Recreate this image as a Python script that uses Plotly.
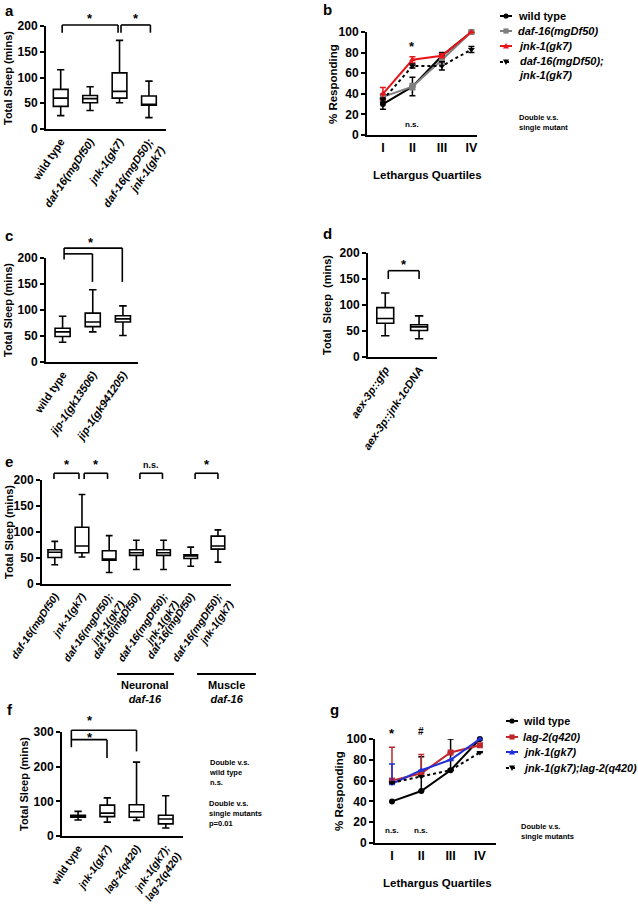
import plotly.graph_objects as go

W, H = 638, 904
FONT = "Liberation Sans, Arial, sans-serif"

# ---------------- data ----------------
# panel a (box: low whisker, q1, median, q3, high whisker)
a_labels = ["wild type", "<i>daf-16(mgDf50)</i>", "<i>jnk-1(gk7)</i>", "<i>daf-16(mgD50);<br>jnk-1(gk7)</i>"]
a_low = [26, 36, 51, 22]
a_q1 = [44, 51, 60, 46]
a_med = [60, 59, 73, 48]
a_q3 = [77, 65, 109, 64]
a_high = [115, 82, 172, 93]

# panel b (lines, % responding)
b_quart = ["I", "II", "III", "IV"]
b_names = ["wild type", "<i>daf-16(mgDf50)</i>", "<i>jnk-1(gk7)</i>", "<i>daf-16(mgDf50);<br>jnk-1(gk7)</i>"]
b_wt = [30, 47, 77, 100]
b_wt_err = [5, 9, 3, 0]
b_daf = [37, 47, 73, 100]
b_daf_err = [3, 3, 3, 0]
b_jnk = [40, 73, 77, 100]
b_jnk_err = [6, 3, 2, 0]
b_dbl = [34, 67, 67, 83]
b_dbl_err = [2, 2, 4, 3]

# panel c
c_labels = ["wild type", "<i>jip-1(gk13506)</i>", "<i>jip-1(gk941205)</i>"]
c_low = [38, 58, 51]
c_q1 = [49, 68, 77]
c_med = [58, 77, 83]
c_q3 = [65, 94, 89]
c_high = [88, 139, 108]

# panel d
d_labels = ["<i>aex-3p::gfp</i>", "<i>aex-3p::jnk-1cDNA</i>"]
d_low = [41, 35]
d_q1 = [65, 51]
d_med = [74, 58]
d_q3 = [95, 62]
d_high = [123, 79]

# panel e
e_labels = ["<i>daf-16(mgDf50)</i>", "<i>jnk-1(gk7)</i>", "<i>daf-16(mgDf50);<br>jnk-1(gk7)</i>",
            "<i>daf-16(mgDf50)</i>", "<i>daf-16(mgDf50);<br>jnk-1(gk7)</i>",
            "<i>daf-16(mgDf50)</i>", "<i>daf-16(mgDf50);<br>jnk-1(gk7)</i>"]
e_low = [37, 52, 22, 28, 28, 34, 42]
e_q1 = [51, 60, 46, 55, 55, 49, 67]
e_med = [61, 73, 47, 60, 60, 54, 73]
e_q3 = [66, 109, 64, 66, 66, 56, 92]
e_high = [82, 172, 93, 84, 84, 71, 104]
e_groups = ["Neuronal", "Muscle"]

# panel f
f_labels = ["wild type", "<i>jnk-1(gk7)</i>", "<i>lag-2(q420)</i>", "<i>jnk-1(gk7);<br>lag-2(q420)</i>"]
f_low = [46, 40, 45, 23]
f_q1 = [54, 56, 54, 35]
f_med = [57, 66, 70, 49]
f_q3 = [60, 89, 90, 60]
f_high = [71, 110, 213, 116]

# panel g
g_quart = ["I", "II", "III", "IV"]
g_names = ["wild type", "<i>lag-2(q420)</i>", "<i>jnk-1(gk7)</i>", "<i>jnk-1(gk7);lag-2(q420)</i>"]
g_wt = [40, 50, 70, 100]
g_wt_err = [0, 33, 30, 0]
g_lag = [60, 67, 87, 94]
g_lag_err = [32, 18, 0, 0]
g_jnk = [57, 70, 80, 100]
g_jnk_err = [19, 0, 0, 0]
g_dbl = [58, 64, 70, 87]
g_dbl_err = [0, 0, 0, 0]

# series styles
b_colors = ['black', '#7f7f7f', '#e8161b', 'black']
g_colors = ['black', '#c0272d', '#2130d8', 'black']
symbols = ['circle', 'square', 'triangle-up', 'triangle-down']
dashes = ['solid', 'solid', 'solid', 'dot']

# ---------------- layout geometry (pixels) ----------------
P = {
    'a': dict(xa='x', ya='y', xd=(46, 166), yd=(26, 129), xr=[-0.5, 3.58], yr=[0, 200]),
    'b': dict(xa='x2', ya='y2', xd=(367, 477), yd=(32, 135), xr=[-0.54, 3.19], yr=[0, 100]),
    'c': dict(xa='x3', ya='y3', xd=(46, 138), yd=(258, 362), xr=[-0.55, 2.5], yr=[0, 200]),
    'd': dict(xa='x4', ya='y4', xd=(368, 437), yd=(253, 357), xr=[-0.51, 1.53], yr=[0, 200]),
    'e': dict(xa='x5', ya='y5', xd=(42, 231), yd=(480, 584), xr=[-0.47, 6.48], yr=[0, 200]),
    'f': dict(xa='x6', ya='y6', xd=(62, 183), yd=(732, 836), xr=[-0.55, 3.59], yr=[0, 300]),
    'g': dict(xa='x7', ya='y7', xd=(375, 496), yd=(739, 843), xr=[-0.58, 3.55], yr=[0, 100]),
}
tick_size = {'a': 11, 'b': 12.5, 'c': 11, 'd': 11, 'e': 10.5, 'f': 10.5, 'g': 12.5}

fig = go.Figure()
shapes = []
annos = []


def axkey(a):
    return a[0] + 'axis' + a[1:]


def fx(p, v):
    r = P[p]['xr']
    return (v - r[0]) / (r[1] - r[0])


def fy(p, v):
    r = P[p]['yr']
    return (v - r[0]) / (r[1] - r[0])


def bracket(p, pts):
    for (x0, y0), (x1, y1) in zip(pts[:-1], pts[1:]):
        shapes.append(dict(type='line', xref=P[p]['xa'] + ' domain', yref=P[p]['ya'] + ' domain',
                           x0=fx(p, x0), y0=fy(p, y0), x1=fx(p, x1), y1=fy(p, y1),
                           line=dict(color='black', width=1.6)))


def dtext(p, x, y, text, size=12):
    annos.append(dict(xref=P[p]['xa'] + ' domain', yref=P[p]['ya'] + ' domain',
                      x=fx(p, x), y=fy(p, y), text=text, showarrow=False,
                      font=dict(size=size, family=FONT, color='black'),
                      xanchor='center', yanchor='middle'))


def ptext(x, y, text, size=11, xanchor='center', yanchor='middle', angle=0, align='center'):
    annos.append(dict(xref='paper', yref='paper', x=x / W, y=1 - y / H, text=text, showarrow=False,
                      font=dict(size=size, family=FONT, color='black'), xanchor=xanchor,
                      yanchor=yanchor, textangle=angle, align=align))


def px(x, y):
    return '%.5f,%.5f' % (x / W, 1 - y / H)


def legend_entry(sx, cy, tx, ty, name, color, symbol, dash, size):
    # key: short line with a marker in its middle, then the label
    shapes.append(dict(type='line', xref='paper', yref='paper', x0=sx / W, x1=(sx + 12) / W,
                       y0=1 - cy / H, y1=1 - cy / H, line=dict(color=color, width=2, dash=dash)))
    cx, r = sx + 6, 2.6
    if symbol == 'circle':
        shapes.append(dict(type='circle', xref='paper', yref='paper', x0=(cx - r) / W, x1=(cx + r) / W,
                           y0=1 - (cy + r) / H, y1=1 - (cy - r) / H, fillcolor=color, line=dict(width=0)))
    elif symbol == 'square':
        shapes.append(dict(type='rect', xref='paper', yref='paper', x0=(cx - r) / W, x1=(cx + r) / W,
                           y0=1 - (cy + r) / H, y1=1 - (cy - r) / H, fillcolor=color, line=dict(width=0)))
    else:
        s = 1 if symbol == 'triangle-up' else -1
        path = 'M%s L%s L%s Z' % (px(cx - 3, cy + 2.5 * s), px(cx + 3, cy + 2.5 * s), px(cx, cy - 3 * s))
        shapes.append(dict(type='path', xref='paper', yref='paper', path=path, fillcolor=color,
                           line=dict(width=0)))
    ptext(tx, ty, '<b>%s</b>' % name, size, xanchor='left', align='left')


def boxes(p, low, q1, med, q3, high):
    fig.add_trace(go.Box(x=list(range(len(med))), q1=q1, median=med, q3=q3,
                         lowerfence=low, upperfence=high, width=0.5, whiskerwidth=0.5,
                         fillcolor='white', line=dict(color='black', width=1.6),
                         boxpoints=False, showlegend=False, hoverinfo='skip',
                         xaxis=P[p]['xa'], yaxis=P[p]['ya']))


def line(p, y, err, name, color, symbol, dash, minus=True):
    fig.add_trace(go.Scatter(x=list(range(len(y))), y=y, name=name, mode='lines+markers',
                             line=dict(color=color, width=2, dash=dash),
                             marker=dict(color=color, symbol=symbol, size=6),
                             error_y=dict(type='data', array=err,
                                          arrayminus=err if minus else [0] * len(err),
                                          color=color, thickness=1.5, width=3),
                             cliponaxis=False, showlegend=False, hoverinfo='skip',
                             xaxis=P[p]['xa'], yaxis=P[p]['ya']))


# ---------------- traces ----------------
boxes('a', a_low, a_q1, a_med, a_q3, a_high)
for i, (ys, es) in enumerate([(b_wt, b_wt_err), (b_daf, b_daf_err), (b_jnk, b_jnk_err), (b_dbl, b_dbl_err)]):
    line('b', ys, es, b_names[i], b_colors[i], symbols[i], dashes[i])
boxes('c', c_low, c_q1, c_med, c_q3, c_high)
boxes('d', d_low, d_q1, d_med, d_q3, d_high)
boxes('e', e_low, e_q1, e_med, e_q3, e_high)
boxes('f', f_low, f_q1, f_med, f_q3, f_high)
for i, (ys, es) in enumerate([(g_wt, g_wt_err), (g_lag, g_lag_err), (g_jnk, g_jnk_err), (g_dbl, g_dbl_err)]):
    line('g', ys, es, g_names[i], g_colors[i], symbols[i], dashes[i], minus=False)

# ---------------- legends (drawn as keys + labels) ----------------
b_rows = [(16, 16), (31, 31), (46, 46), (62, 68)]
for i, (cy, ty) in enumerate(b_rows):
    legend_entry(500, cy, 516, ty, b_names[i], b_colors[i], symbols[i], dashes[i], 11)
g_rows = [721, 737, 752, 768]
for i, cy in enumerate(g_rows):
    legend_entry(506, cy, 521, cy, g_names[i], g_colors[i], symbols[i], dashes[i], 10.8)

# ---------------- axes ----------------
ticklabels = {'a': a_labels, 'b': b_quart, 'c': c_labels, 'd': d_labels, 'e': e_labels,
              'f': f_labels, 'g': g_quart}
yticks = {'a': [0, 50, 100, 150, 200], 'b': [0, 20, 40, 60, 80, 100], 'c': [0, 50, 100, 150, 200],
          'd': [0, 50, 100, 150, 200], 'e': [0, 50, 100, 150, 200], 'f': [0, 100, 200, 300],
          'g': [0, 20, 40, 60, 80, 100]}
layout = {}
for p, s in P.items():
    labs = ticklabels[p]
    rotated = p not in ('b', 'g')
    layout[axkey(s['xa'])] = dict(
        domain=[s['xd'][0] / W, s['xd'][1] / W], range=s['xr'], anchor=s['ya'],
        tickvals=list(range(len(labs))), ticktext=['<b>' + t + '</b>' for t in labs],
        tickangle=-56 if rotated else 0, ticks='', showline=True, linecolor='black', linewidth=2,
        showgrid=False, zeroline=False, fixedrange=True, automargin=False,
        tickfont=dict(size=tick_size[p], family=FONT, color='black'))
    layout[axkey(s['ya'])] = dict(
        domain=[1 - s['yd'][1] / H, 1 - s['yd'][0] / H], range=s['yr'], anchor=s['xa'],
        tickvals=yticks[p], ticktext=['<b>%d</b>' % v for v in yticks[p]], ticks='outside',
        ticklen=4, tickwidth=2, tickcolor='black', showline=True, linecolor='black', linewidth=2,
        showgrid=False, zeroline=False, fixedrange=True, automargin=False,
        tickfont=dict(size=12, family=FONT, color='black'))

# ---------------- brackets & significance ----------------
bracket('a', [(0.05, 187), (0.05, 202), (1.95, 202), (1.95, 187)])
bracket('a', [(2.05, 187), (2.05, 202), (3.05, 202), (3.05, 187)])
dtext('a', 1.0, 214, '<b>*</b>', 13)
dtext('a', 2.55, 214, '<b>*</b>', 13)

dtext('b', 1, 86, '<b>*</b>', 13)
dtext('b', 1, 10, '<b>n.s.</b>', 8)

bracket('c', [(0.05, 197), (0.05, 219), (1.98, 219), (1.98, 154)])
bracket('c', [(0.05, 208), (0.99, 208), (0.99, 154)])
dtext('c', 0.95, 230, '<b>*</b>', 13)

bracket('d', [(0.09, 150), (0.09, 166), (1.0, 166), (1.0, 150)])
dtext('d', 0.55, 178, '<b>*</b>', 13)

bracket('e', [(-0.03, 202), (-0.03, 213), (0.89, 213), (0.89, 202)])
bracket('e', [(1.08, 202), (1.08, 213), (1.94, 213), (1.94, 202)])
bracket('e', [(3.13, 202), (3.13, 213), (3.96, 213), (3.96, 202)])
bracket('e', [(5.16, 202), (5.16, 213), (6.0, 213), (6.0, 202)])
dtext('e', 0.45, 230, '<b>*</b>', 13)
dtext('e', 1.52, 230, '<b>*</b>', 13)
dtext('e', 3.55, 228, '<b>n.s.</b>', 9)
dtext('e', 5.58, 230, '<b>*</b>', 13)

bracket('f', [(-0.23, 256), (-0.23, 305), (2.0, 305), (2.0, 244)])
bracket('f', [(-0.23, 278), (0.99, 278), (0.99, 225)])
dtext('f', 0.4, 332, '<b>*</b>', 13)
dtext('f', 0.4, 284, '<b>*</b>', 13)

dtext('g', 0, 105, '<b>*</b>', 13)
dtext('g', 1, 107, '<b>#</b>', 10)
dtext('g', 0, 12, '<b>n.s.</b>', 8)
dtext('g', 1, 12, '<b>n.s.</b>', 8)

# panel e group underlines + labels
shapes.append(dict(type='line', xref='paper', yref='paper', x0=117 / W, x1=174 / W,
                   y0=1 - 674 / H, y1=1 - 674 / H, line=dict(color='black', width=2)))
shapes.append(dict(type='line', xref='paper', yref='paper', x0=197 / W, x1=256 / W,
                   y0=1 - 674 / H, y1=1 - 674 / H, line=dict(color='black', width=2)))
ptext(145, 692, '<b>%s</b><br><b><i>daf-16</i></b>' % e_groups[0], 11)
ptext(226, 692, '<b>%s</b><br><b><i>daf-16</i></b>' % e_groups[1], 11)

# ---------------- titles ----------------
ytitle = "<b>Total Sleep (mins)</b>"
ptext(8, 78, ytitle, 11, angle=-90)
ptext(333, 84, "<b>% Responding</b>", 11.5, angle=-90)
ptext(8, 310, ytitle, 11, angle=-90)
ptext(327, 305, "<b>Total  Sleep  (mins)</b>", 11, angle=-90)
ptext(9, 532, ytitle, 11, angle=-90)
ptext(24, 784, ytitle, 11, angle=-90)
ptext(339, 791, "<b>% Responding</b>", 11.5, angle=-90)
ptext(428, 175, "<b>Lethargus Quartiles</b>", 11.5)
ptext(437, 883, "<b>Lethargus Quartiles</b>", 11.5)

# notes
ptext(517, 122, "<b>Double v.s.<br>single mutant</b>", 7.5, xanchor='left', align='left')
ptext(207, 772, "<b>Double v.s.<br>wild type<br>n.s.</b>", 7.5, xanchor='left', align='left')
ptext(207, 813, "<b>Double v.s.<br>single mutants<br>p=0.01</b>", 7.5, xanchor='left', align='left')
ptext(519, 831, "<b>Double v.s.<br>single mutants</b>", 7.5, xanchor='left', align='left')

# panel letters
for letter, (lx, ly) in {'a': (3, 11), 'b': (321, 10), 'c': (3, 235), 'd': (321, 233),
                         'e': (3, 461), 'f': (5, 709), 'g': (328, 709)}.items():
    ptext(lx, ly, '<b>%s</b>' % letter, 15, xanchor='left')

fig.update_layout(
    width=W, height=H, margin=dict(l=0, r=0, t=0, b=0, autoexpand=False),
    paper_bgcolor='white', plot_bgcolor='white',
    font=dict(family=FONT, color='black'),
    showlegend=False,
    shapes=shapes, annotations=annos,
    **layout,
)

fig.write_html("out.html", config={'displayModeBar': False},
               post_script="document.body.style.margin='0';document.body.style.overflow='hidden';")
